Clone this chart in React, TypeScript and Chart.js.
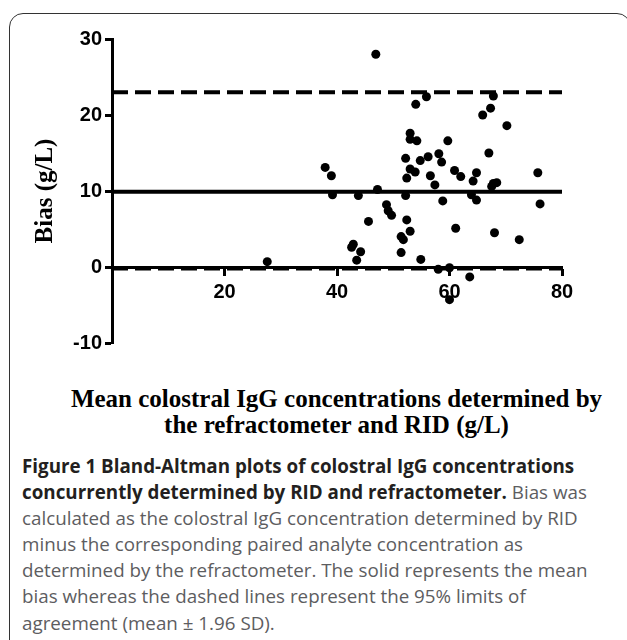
import React, { useEffect, useRef } from 'react';
import { Chart, registerables } from 'chart.js';

Chart.register(...registerables);

// Mean colostral IgG (g/L) of each sample pair
const meanIgG = [
  46.9, 54.0, 55.9, 53.0, 53.0, 54.2, 52.2, 54.8, 53.0, 53.9,
  56.2, 56.6, 52.4, 47.2, 43.8, 52.2, 48.8, 49.1, 49.7, 45.6,
  52.4, 53.0, 51.4, 51.8, 42.9, 42.6, 44.2, 51.4, 43.5, 54.9,
  37.9, 39.0, 39.2, 27.6, 67.8, 67.3, 65.9, 70.2, 59.7, 67.0,
  58.1, 58.6, 57.4, 60.9, 62.0, 64.8, 64.2, 67.8, 68.4, 67.5,
  63.9, 64.8, 58.8, 61.1, 68.0, 58.0, 60.0, 63.6, 60.0, 75.7,
  76.1, 72.4,
];
// Bias (RID - refractometer, g/L) of each sample pair
const biasIgG = [
  28.0, 21.4, 22.4, 17.6, 16.8, 16.6, 14.3, 14.0, 12.9, 12.5,
  14.5, 12.0, 11.7, 10.2, 9.4, 9.4, 8.2, 7.4, 6.8, 6.0,
  6.2, 4.7, 4.0, 3.6, 3.0, 2.6, 2.0, 1.9, 0.9, 1.0,
  13.1, 12.0, 9.5, 0.7, 22.5, 20.9, 20.0, 18.6, 16.6, 15.0,
  14.9, 13.8, 10.8, 12.7, 11.9, 12.4, 11.3, 11.0, 11.1, 10.6,
  9.5, 8.8, 8.7, 5.1, 4.5, -0.3, -0.1, -1.3, -4.3, 12.4,
  8.3, 3.6,
];

const meanBias = 9.9;
const upperLoA = 23.0;
const lowerLoA = -0.2;
const lineSpan = [0, 80];

const xRange = [0, 80];
const yRange = [-10, 30];
const xTickStep = 20;
const yTickStep = 10;

const yTitle = 'Bias (g/L)';
const xTitleLines = [
  'Mean colostral IgG concentrations determined by',
  'the refractometer and RID (g/L)',
];

const tickFont = { family: "'Liberation Sans', Arial, sans-serif", weight: 'bold' as const, size: 20 };

export default function App() {
  const ref = useRef<HTMLCanvasElement | null>(null);

  useEffect(() => {
    if (!ref.current) return;
    const hline = (y: number) => lineSpan.map((x) => ({ x, y }));
    const chart = new Chart(ref.current, {
      type: 'scatter',
      data: {
        datasets: [
          {
            label: 'Upper limit of agreement',
            data: hline(upperLoA),
            showLine: true,
            borderColor: '#000',
            borderWidth: 4,
            borderDash: [16, 7],
            pointRadius: 0,
          },
          {
            label: 'Mean bias',
            data: hline(meanBias),
            showLine: true,
            borderColor: '#000',
            borderWidth: 4,
            pointRadius: 0,
          },
          {
            label: 'Lower limit of agreement',
            data: hline(lowerLoA),
            showLine: true,
            borderColor: '#000',
            borderWidth: 4,
            borderDash: [16, 7],
            pointRadius: 0,
          },
          {
            label: 'Bias',
            data: meanIgG.map((x, i) => ({ x, y: biasIgG[i] })),
            pointRadius: 4.5,
            pointBackgroundColor: '#000',
            pointBorderWidth: 0,
            backgroundColor: '#000',
            borderColor: '#000',
          },
        ],
      },
      options: {
        responsive: false,
        animation: false,
        layout: { padding: { top: 39, right: 65, bottom: 17, left: 0 } },
        plugins: {
          legend: { display: false },
          tooltip: { enabled: false },
          title: { display: false },
        },
        scales: {
          x: {
            type: 'linear',
            position: { y: 0 } as any,
            min: xRange[0],
            max: xRange[1],
            grid: {
              display: true,
              drawOnChartArea: false,
              drawTicks: true,
              tickLength: 7,
              tickWidth: 3,
              tickColor: '#000',
            },
            border: { display: true, color: '#000', width: 3 },
            ticks: {
              stepSize: xTickStep,
              color: '#000',
              font: tickFont,
              padding: 6,
              maxRotation: 0,
              autoSkip: false,
              callback: (v: any) => (Number(v) === 0 ? '' : String(v)),
            },
          },
          y: {
            type: 'linear',
            position: 'left',
            min: yRange[0],
            max: yRange[1],
            afterFit: (s: any) => {
              s.width = 112;
            },
            grid: {
              display: true,
              drawOnChartArea: false,
              drawTicks: true,
              tickLength: 7,
              tickWidth: 3,
              tickColor: '#000',
            },
            border: { display: true, color: '#000', width: 3 },
            ticks: {
              stepSize: yTickStep,
              color: '#000',
              font: tickFont,
              padding: 3,
            },
            title: {
              display: true,
              text: yTitle,
              color: '#000',
              font: { family: "'Liberation Serif', 'Times New Roman', serif", weight: 'bold', size: 25, lineHeight: 1.2 },
              padding: { top: 31, bottom: 0 },
            },
          },
        },
      },
    });
    return () => chart.destroy();
  }, []);

  return (
    <div
      style={{
        position: 'fixed',
        left: 0,
        top: 0,
        width: 627,
        height: 640,
        overflow: 'hidden',
        background: '#fff',
      }}
    >
      <div
        style={{
          position: 'absolute',
          left: 9,
          top: 13,
          width: 622,
          height: 700,
          border: '1.5px solid #333',
          borderRadius: 14,
          boxSizing: 'border-box',
        }}
      />
      <canvas
        ref={ref}
        width={627}
        height={360}
        style={{ position: 'absolute', left: 0, top: 0, width: 627, height: 360 }}
      />
      <div
        style={{
          position: 'absolute',
          left: 0,
          top: 385.6,
          width: 673,
          textAlign: 'center',
          fontFamily: "'Liberation Serif', 'Times New Roman', serif",
          fontWeight: 'bold',
          fontSize: 25,
          lineHeight: '26px',
          color: '#000',
          whiteSpace: 'nowrap',
        }}
      >
        {xTitleLines[0]}
        <br />
        {xTitleLines[1]}
      </div>
      <div
        style={{
          position: 'absolute',
          left: 22,
          top: 453,
          fontFamily: "'Open Sans', sans-serif",
          fontSize: 18.8,
          lineHeight: '26.1px',
          color: '#5d5d5f',
          whiteSpace: 'nowrap',
        }}
      >
        <span style={{ fontWeight: 700, color: '#231f20' }}>
          Figure 1 Bland-Altman plots of colostral IgG concentrations
        </span>
        <br />
        <span style={{ fontWeight: 700, color: '#231f20' }}>
          concurrently determined by RID and refractometer.
        </span>{' '}
        Bias was
        <br />
        calculated as the colostral IgG concentration determined by RID
        <br />
        minus the corresponding paired analyte concentration as
        <br />
        determined by the refractometer. The solid represents the mean
        <br />
        bias whereas the dashed lines represent the 95% limits of
        <br />
        agreement (mean ± 1.96 SD).
      </div>
    </div>
  );
}
